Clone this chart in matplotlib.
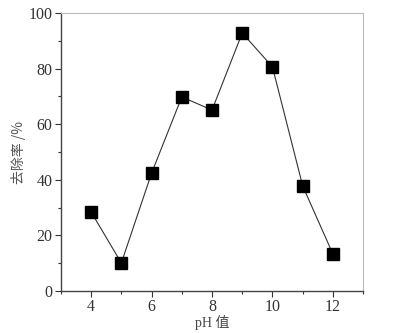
import matplotlib
matplotlib.use("Agg")
import matplotlib.pyplot as plt
from matplotlib.ticker import MultipleLocator

ph = [4, 5, 6, 7, 8, 9, 10, 11, 12]
removal = [28.4, 10.1, 42.4, 69.8, 65.1, 92.8, 80.6, 37.8, 13.3]
xticks = [4, 6, 8, 10, 12]
yticks = [0, 20, 40, 60, 80, 100]

plt.rcParams['font.family'] = ['Liberation Serif', 'Noto Sans CJK SC']

fig = plt.figure(figsize=(3.93, 3.33), dpi=100)
ax = fig.add_axes([0.155, 0.126, 0.769, 0.835])
ax.plot(ph, removal, color='#333333', lw=0.8, marker='s', ms=8,
        mfc='black', mec='black')
ax.set_xlim(3, 13)
ax.set_ylim(0, 100)
ax.set_xticks(xticks)
ax.set_yticks(yticks)
ax.xaxis.set_minor_locator(MultipleLocator(1))
ax.yaxis.set_minor_locator(MultipleLocator(10))
ax.tick_params(which='major', direction='out', length=4, width=0.8, labelsize=11.5, colors='#333333', pad=2)
ax.tick_params(which='minor', direction='out', length=2.5, width=0.8, colors='#333333')
for s in ['left', 'bottom']:
    ax.spines[s].set_color('#444444')
    ax.spines[s].set_linewidth(1.0)
for s in ['top', 'right']:
    ax.spines[s].set_color('#bbbbbb')
    ax.spines[s].set_linewidth(0.8)
ax.set_xlabel('pH 值', fontsize=10, color='#444444',
              family=['Liberation Serif', 'Noto Sans CJK SC'], labelpad=0)
ax.set_ylabel('去除率 /%', fontsize=10, color='#555555',
              family=['Noto Sans CJK SC', 'Liberation Serif'], labelpad=2)
fig.savefig('out.png', dpi=100)
